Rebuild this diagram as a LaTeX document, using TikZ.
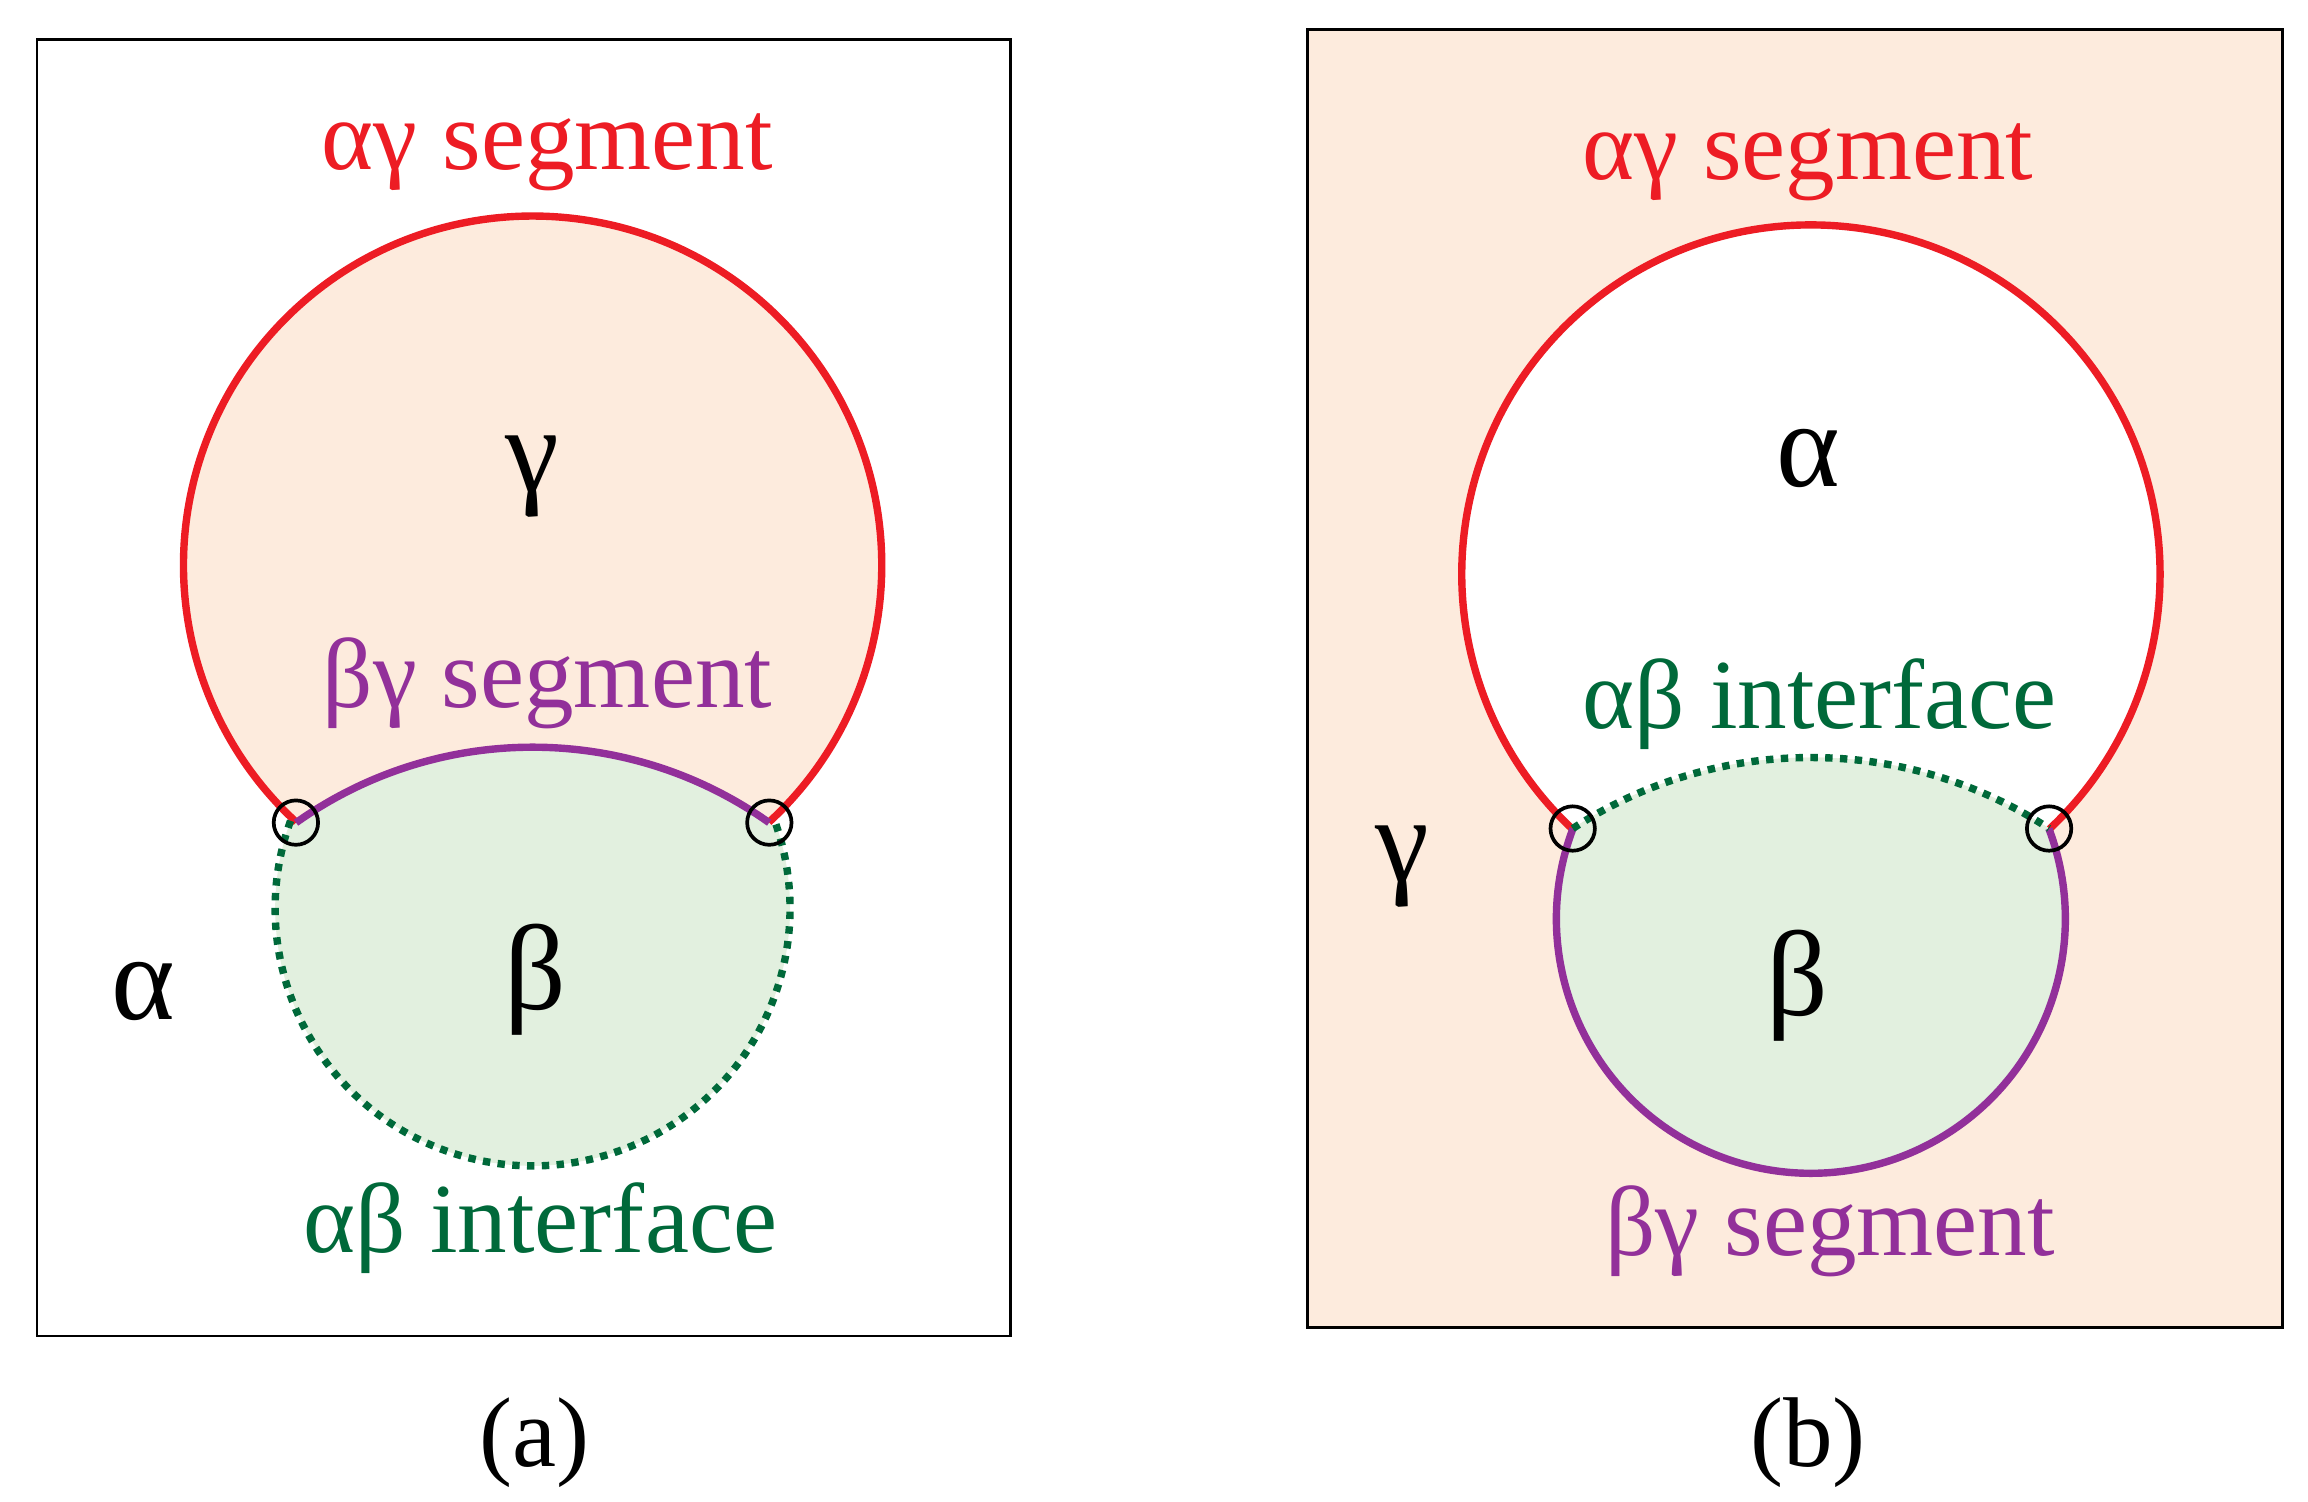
\documentclass[tikz,border=0pt]{standalone}
\usepackage{fontspec}
\setmainfont{Liberation Serif}
\begin{document}
\definecolor{cred}{HTML}{ED1C24}
\definecolor{cpur}{HTML}{92309A}
\definecolor{cgrn}{HTML}{00693A}
\definecolor{cpeach}{HTML}{FDEBDD}
\definecolor{clg}{HTML}{E2F0DF}
\begin{tikzpicture}[x=1pt,y=1pt,
  lab/.style={font=\fontsize{67}{74}\selectfont},
  big/.style={font=\fontsize{82}{90}\selectfont},
  jn/.style={draw=black,line width=2.5pt,circle,minimum size=30pt,inner sep=0pt},
  seg/.style={line width=5pt}]
\useasboundingbox (0,0) rectangle (1560,-1015);
% ---------- (a)
\draw[line width=2pt] (25,-27) rectangle (683,-903);
\fill[cpeach] (360,-382) circle (236);
\begin{scope}\clip (360,-382) circle (236); \fill[white] (360,-781) circle (276);\end{scope}
\begin{scope}\clip (360,-781) circle (276); \fill[clg] (360,-614) circle (174);\end{scope}
\draw[seg,cred] (360,-382) ++(-47.4:236) arc[start angle=-47.4,end angle=227.4,radius=236];
\draw[seg,cpur] (360,-781) ++(125.4:276) arc[start angle=125.4,end angle=54.6,radius=276];
\draw[seg,cgrn,dash pattern=on 5pt off 5pt] (360,-614) ++(160.1:174) arc[start angle=160.1,end angle=379.9,radius=174];
\node[jn] (ja1) at (200,-556) {};
\node[jn] (ja2) at (520,-556) {};
\node[lab,text=cred] (a1) at (370,-103) {αγ segment};
\node[big] (a2) at (360,-322) {γ};
\node[lab,text=cpur] (a3) at (370,-462) {βγ segment};
\node[big] (a4) at (362,-662) {β};
\node[big] (a5) at (97,-670) {α};
\node[lab,text=cgrn] (a6) at (365,-830) {αβ interface};
\node[lab] (a7) at (361,-975) {(a)};
% ---------- (b)
\draw[line width=2pt,fill=cpeach] (884,-20) rectangle (1543,-897);
\fill[white] (1224,-388) circle (236);
\begin{scope}\clip (1224,-388) circle (236); \fill[cpeach] (1224,-806) circle (294);\end{scope}
\begin{scope}\clip (1224,-806) circle (294); \fill[clg] (1224,-621) circle (172);\end{scope}
\draw[seg,cred] (1224,-388) ++(-46.9:236) arc[start angle=-46.9,end angle=226.9,radius=236];
\draw[seg,cpur] (1224,-621) ++(159.25:172) arc[start angle=159.25,end angle=380.75,radius=172];
\draw[seg,cgrn,dash pattern=on 5pt off 5pt] (1224,-806) ++(123.2:294) arc[start angle=123.2,end angle=56.8,radius=294];
\node[jn] (jb1) at (1063,-560) {};
\node[jn] (jb2) at (1385,-560) {};
\node[lab,text=cred] (b1) at (1222,-110) {αγ segment};
\node[big] (b2) at (1222,-310) {α};
\node[lab,text=cgrn] (b3) at (1230,-476) {αβ interface};
\node[big] (b4) at (948,-586) {γ};
\node[big] (b5) at (1215,-666) {β};
\node[lab,text=cpur] (b6) at (1237,-832) {βγ segment};
\node[lab] (b7) at (1222,-975) {(b)};
\end{tikzpicture}
\end{document}
